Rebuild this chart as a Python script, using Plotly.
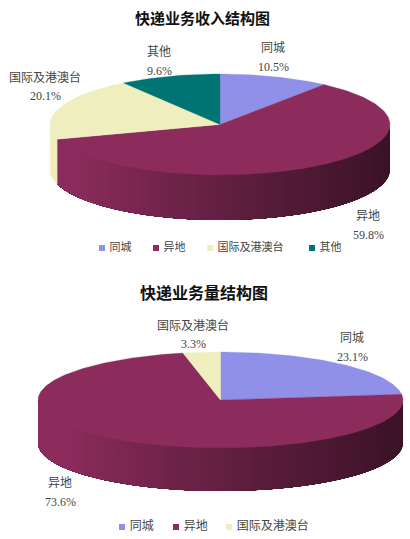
import math
import plotly.graph_objects as go

# ---------- data ----------
REVENUE_TITLE = "快递业务收入结构图"
REVENUE_CATS = ["同城", "异地", "国际及港澳台", "其他"]
REVENUE_VALS = [10.5, 59.8, 20.1, 9.6]

VOLUME_TITLE = "快递业务量结构图"
VOLUME_CATS = ["同城", "异地", "国际及港澳台"]
VOLUME_VALS = [23.1, 73.6, 3.3]

COLORS = ["#9090e8", "#8b2c5c", "#eeeebf", "#007373"]

FONT = "Liberation Serif, Noto Sans CJK SC"
TEXT_COLOR = "#444444"

# page-pixel layout of each pie: cx, cy, rx, ry, wall depth
REVENUE_PIE = (220, 124.5, 170, 50.5, 45)
VOLUME_PIE = (220.5, 400, 182.5, 48, 43)

# label centres in page pixels
REVENUE_LABEL_POS = [(273, 57.5), (368, 225), (45, 86.5), (159, 61)]
VOLUME_LABEL_POS = [(352, 347), (60, 492), (193, 334.5)]
REVENUE_LEGEND_POS = [(102, 248), (156, 248), (210, 248), (312, 248)]
VOLUME_LEGEND_POS = [(122, 527), (176, 527), (229, 527)]


def shade(color, f):
    r, g, b = int(color[1:3], 16), int(color[3:5], 16), int(color[5:7], 16)
    return f"rgb({r * f:.0f},{g * f:.0f},{b * f:.0f})"


def point(pie, deg, drop=0):
    # deg runs clockwise from 12 o'clock
    cx, cy, rx, ry, _ = pie
    t = math.radians(deg)
    return cx + rx * math.sin(t), cy - ry * math.cos(t) + drop


def draw_pie(fig, pie, values):
    depth = pie[4]
    start = 0
    for val, color in zip(values, COLORS):
        end = start + val * 3.6
        # wall: only the front half of the cylinder is visible
        a = max(start, 90)
        b = min(end, 270)
        n = int((b - a) / 1.5) + 1 if b > a else 0
        # each strip runs on to the slice end so the next one paints over it, no seams
        for i in range(n):
            d0 = a + (b - a) * i / n
            d1 = a + (b - a) * (i + 1) / n
            arc = [d0 + (b - d0) * j / 40 for j in range(41)]
            top = [point(pie, d) for d in arc]
            low = [point(pie, d, depth) for d in reversed(arc)]
            x_mid = (point(pie, d0)[0] + point(pie, d1)[0]) / 2
            frac = (x_mid - (pie[0] - pie[2])) / (2 * pie[2])
            f = 1 - 0.62 * max(0, frac - 0.08) ** 0.9
            fig.add_trace(go.Scatter(
                x=[p[0] for p in top + low], y=[p[1] for p in top + low],
                mode="lines", fill="toself", fillcolor=shade(color, f),
                line=dict(width=0),
                hoverinfo="skip", showlegend=False))
        start = end

    start = 0
    for val, color in zip(values, COLORS):
        end = start + val * 3.6
        n = max(int(val * 3.6), 2)
        pts = [point(pie, start + (end - start) * i / n) for i in range(n + 1)]
        xs = [pie[0]] + [p[0] for p in pts] + [pie[0]]
        ys = [pie[1]] + [p[1] for p in pts] + [pie[1]]
        fig.add_trace(go.Scatter(
            x=xs, y=ys, mode="lines", fill="toself", fillcolor=color,
            line=dict(color=color, width=0.3),
            hoverinfo="skip", showlegend=False))
        start = end


def add_labels(fig, cats, values, positions):
    # name and value are separate so the line gap can follow the picture
    for cat, val, (x, y) in zip(cats, values, positions):
        for text, yy in [(cat, y - 9.5), (f"{val:.1f}%", y + 9.5)]:
            fig.add_annotation(
                x=x, y=yy, text=text, showarrow=False,
                font=dict(family=FONT, size=12, color=TEXT_COLOR))


def add_legend(fig, cats, positions, size):
    for i, (cat, (x, y)) in enumerate(zip(cats, positions)):
        fig.add_trace(go.Scatter(
            x=[x], y=[y], mode="markers+text", text=[" " + cat],
            textposition="middle right",
            textfont=dict(family=FONT, size=size, color=TEXT_COLOR),
            marker=dict(symbol="square", size=6, color=COLORS[i]),
            hoverinfo="skip", showlegend=False))


fig = go.Figure()
draw_pie(fig, REVENUE_PIE, REVENUE_VALS)
draw_pie(fig, VOLUME_PIE, VOLUME_VALS)
add_labels(fig, REVENUE_CATS, REVENUE_VALS, REVENUE_LABEL_POS)
add_labels(fig, VOLUME_CATS, VOLUME_VALS, VOLUME_LABEL_POS)
add_legend(fig, REVENUE_CATS, REVENUE_LEGEND_POS, 11)
add_legend(fig, VOLUME_CATS, VOLUME_LEGEND_POS, 12)

for title, (x, y), size in [(REVENUE_TITLE, (202, 17), 15), (VOLUME_TITLE, (204, 292), 16)]:
    fig.add_annotation(x=x, y=y, text=f"<b>{title}</b>", showarrow=False,
                       font=dict(family="Noto Sans CJK SC", size=size, color="#111111"))

fig.update_layout(
    width=410, height=539,
    margin=dict(l=0, r=0, t=0, b=0),
    paper_bgcolor="white", plot_bgcolor="white",
    xaxis=dict(range=[0, 410], visible=False, fixedrange=True),
    yaxis=dict(range=[539, 0], visible=False, fixedrange=True),
)

fig.write_html("out.html", include_plotlyjs=True, config={"displayModeBar": False},
               post_script="document.body.style.margin='0';")
